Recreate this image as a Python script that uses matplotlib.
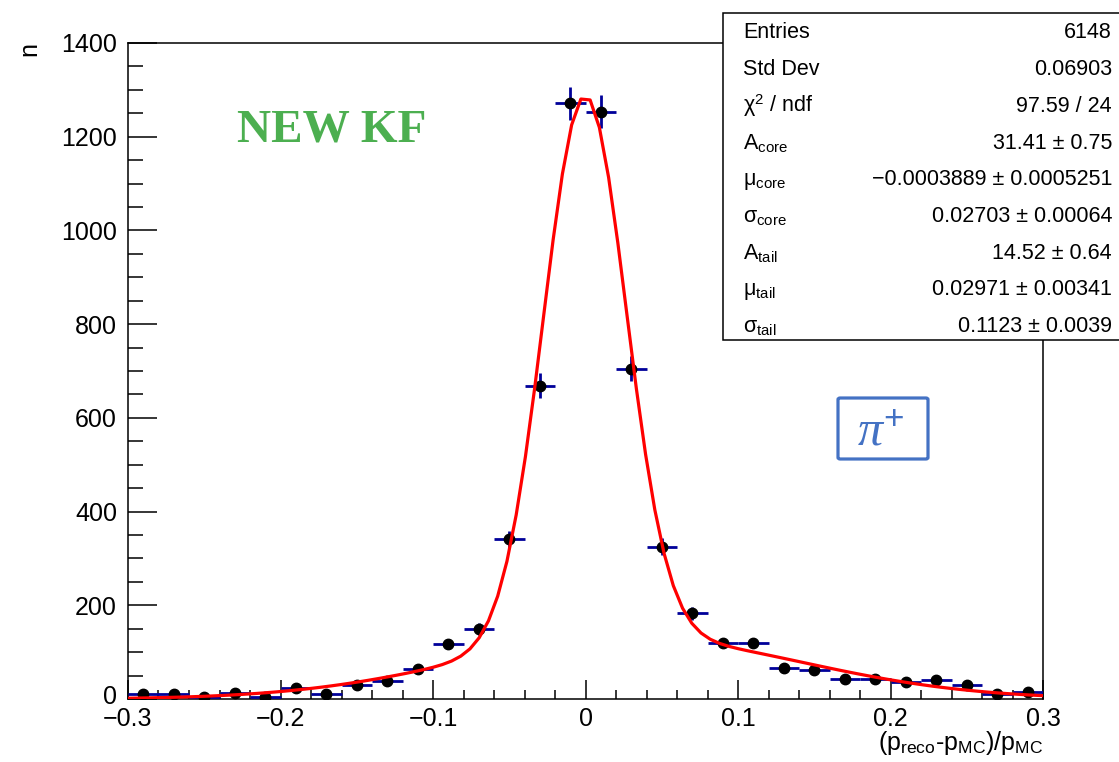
import numpy as np
import matplotlib
matplotlib.use("Agg")
import matplotlib.pyplot as plt
import matplotlib.transforms as mtransforms
from matplotlib.patches import Rectangle, FancyBboxPatch
from matplotlib.ticker import MultipleLocator

plt.rcParams['font.family'] = ['Liberation Sans', 'DejaVu Sans']
plt.rcParams['mathtext.fontset'] = 'custom'
plt.rcParams['mathtext.rm'] = 'Liberation Sans'
plt.rcParams['mathtext.it'] = 'Liberation Serif:italic'
plt.rcParams['mathtext.bf'] = 'Liberation Sans:bold'

# histogram of momentum resolution, 30 bins over [-0.3, 0.3]
bin_edges = np.linspace(-0.3, 0.3, 31)
bin_centers = 0.5 * (bin_edges[:-1] + bin_edges[1:])
counts = [11, 11, 5, 13, 4, 24, 11, 30, 38, 63,
          118, 149, 341, 669, 1271, 1253, 705, 325, 183, 120,
          120, 67, 61, 42, 42, 37, 40, 29, 11, 16]

# double gaussian fit results (core + tail)
A_core, mu_core, sig_core = 31.41, -0.0003889, 0.02703
A_tail, mu_tail, sig_tail = 14.52, 0.02971, 0.1123

stats_names = ['Entries', 'Std Dev', 'χ$^{2}$ / ndf',
               'A$_{\\rm core}$', 'μ$_{\\rm core}$', 'σ$_{\\rm core}$',
               'A$_{\\rm tail}$', 'μ$_{\\rm tail}$', 'σ$_{\\rm tail}$']
stats_vals = ['6148', '0.06903', '97.59 / 24',
              '31.41 ± 0.75', '−0.0003889 ± 0.0005251', '0.02703 ± 0.00064',
              '14.52 ± 0.64', '0.02971 ± 0.00341', '0.1123 ± 0.0039']


def dgaus(x):
    core = A_core / sig_core * np.exp(-0.5 * ((x - mu_core) / sig_core) ** 2)
    tail = A_tail / sig_tail * np.exp(-0.5 * ((x - mu_tail) / sig_tail) ** 2)
    return core + tail


W, H = 1119, 762
fig = plt.figure(figsize=(W / 100, H / 100), dpi=100)
ax = fig.add_axes([128 / W, 1 - 699 / H, (1043 - 128) / W, (699 - 43) / H])

counts = np.array(counts, dtype=float)
ax.errorbar(bin_centers, counts, xerr=0.01, yerr=np.sqrt(counts), fmt='o',
            color='black', ecolor='#000099', elinewidth=2.0, capsize=0,
            markersize=7.5, zorder=3)

xf = np.linspace(-0.3, 0.3, 100)
ax.plot(xf, dgaus(xf), color='#ff0000', lw=2.3, zorder=4)

ax.set_xlim(-0.3, 0.3)
ax.set_ylim(0, 1400)
ax.set_xticks([-0.3, -0.2, -0.1, 0, 0.1, 0.2, 0.3])
ax.set_xticklabels(['−0.3', '−0.2', '−0.1', '0', '0.1', '0.2', '0.3'])
ax.set_yticks(np.arange(0, 1401, 200))
ax.xaxis.set_minor_locator(MultipleLocator(0.02))
ax.yaxis.set_minor_locator(MultipleLocator(50))
ax.tick_params(which='both', direction='in', width=1.1, labelsize=18)
ax.tick_params(axis='x', which='major', length=13.7, pad=6)
ax.tick_params(axis='x', which='minor', length=6.8)
ax.tick_params(axis='y', which='major', length=20.9, pad=8)
ax.tick_params(axis='y', which='minor', length=10.8)
for sp in ax.spines.values():
    sp.set_linewidth(1.1)

# nudge the "0" on the y axis up a little so it clears "-0.3"
lab0 = ax.get_yticklabels()[0]
lab0.set_transform(lab0.get_transform() +
                   mtransforms.ScaledTranslation(0, 4 / 100, fig.dpi_scale_trans))

fig.text(29 / W, 1 - 42 / H, 'n', rotation=90, ha='center', va='top', fontsize=18)
fig.text(1043 / W, 1 - 750 / H,
         '(p$_{\\rm reco}$-p$_{\\rm MC}$)/p$_{\\rm MC}$',
         ha='right', va='baseline', fontsize=18)

# stats box
box = Rectangle((723 / W, 1 - 340 / H), (1130 - 723) / W, (340 - 13) / H,
                transform=fig.transFigure, facecolor='white', edgecolor='black',
                lw=1.1, clip_on=False, zorder=5)
fig.add_artist(box)
for i, (name, val) in enumerate(zip(stats_names, stats_vals)):
    yb = 1 - (38.5 + i * 36.7) / H
    fig.text(743 / W, yb, name, ha='left', va='baseline', fontsize=15.5, zorder=6)
    fig.text(1112 / W, yb, val, ha='right', va='baseline', fontsize=15.5, zorder=6)

fig.text(237 / W, 1 - 142 / H, 'NEW KF', color='#4caf50', fontsize=34,
         fontweight='bold', family='Liberation Serif', ha='left', va='baseline')

blue = '#4472c4'
pbox = FancyBboxPatch((838 / W, 1 - 459 / H), (928 - 838) / W, (459 - 398) / H,
                      boxstyle='round,pad=0,rounding_size=0.002',
                      transform=fig.transFigure, facecolor='white',
                      edgecolor=blue, lw=2.3, zorder=5)
fig.add_artist(pbox)
fig.text(881 / W, 1 - 445 / H, r'$\pi^{+}$', color=blue, fontsize=36,
         ha='center', va='baseline', zorder=6)

fig.savefig('out.png', dpi=100)
